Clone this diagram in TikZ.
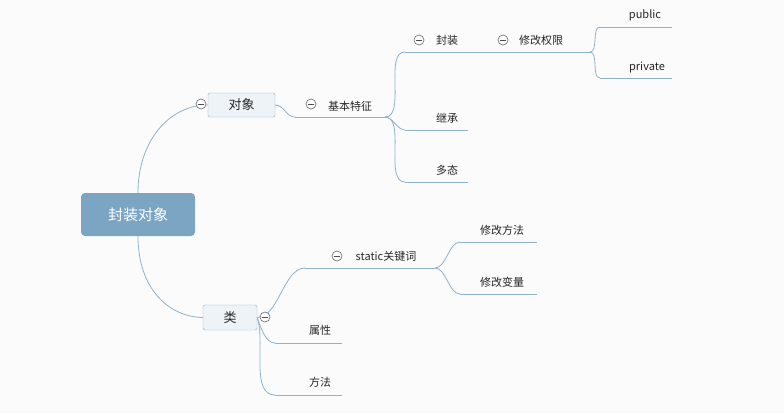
\documentclass[tikz,border=0pt]{standalone}
\usepackage{fontspec}
\setmainfont{Noto Sans CJK SC}
\definecolor{bg}{HTML}{FBFBFB}
\definecolor{ln}{HTML}{8FB2CB}
\definecolor{rootc}{HTML}{7CA5C3}
\definecolor{boxf}{HTML}{EEF3F8}
\tikzset{
 every node/.style={font=\fontsize{11}{13}\selectfont, text=black!85},
 lnk/.style={draw=ln, line width=0.8pt},
 topic/.style={inner sep=0pt},
 subbox/.style={draw=ln, fill=boxf, rounded corners=2pt, minimum width=67pt, minimum height=24pt, font=\fontsize{13}{15}\selectfont},
 tog/.style={circle, draw=black!60, fill=white, minimum size=10pt, inner sep=0pt, line width=0.6pt,
   path picture={\draw[black!70,line width=0.6pt] ([xshift=-3pt]path picture bounding box.center) -- ([xshift=3pt]path picture bounding box.center);}}
}
\begin{document}
\begin{tikzpicture}[x=1pt,y=-1pt]
\fill[bg] (0,0) rectangle (784,413);
\useasboundingbox (0,0) rectangle (784,413);
\node[fill=rootc, rounded corners=4pt, minimum width=114pt, minimum height=43pt, text=white, font=\fontsize{15}{17}\selectfont] (root) at (138,214.5) {封装对象};
\node[subbox] (dx) at (241.5,105) {对象};
\node[subbox, minimum width=54pt, minimum height=25pt] (lei) at (230,317.5) {类};
\foreach \n/\x/\y/\e in {jb/295/117/385, fz/405/52/490, qx/490/52/590, pub/600/27/672, pri/600/78/672, jc/405/130/468, dt/405/182/468, st/305/268/435, ff/460/242/537, bl/460/294/537, sx/275/343/342, fa/275/395/342}{
  \coordinate (\n s) at (\x,\y);
  \coordinate (\n e) at (\e,\y);
  \draw[lnk] (\n s) -- (\n e);
}
% connectors
\draw[lnk] (root.north) .. controls (138,140) and (170,105) .. (dx.west);
\draw[lnk] (root.south) .. controls (138,290) and (170,317) .. (lei.west);
\draw[lnk] (dx.east) to[out=0,in=180] (jbs);
\foreach \c in {fzs,jcs,dts}{\draw[lnk] (jbe) to[out=0,in=180,looseness=0.8] (\c);}
\foreach \c in {pubs,pris}{\draw[lnk] (qxe) to[out=0,in=180,looseness=0.8] (\c);}
\draw[lnk] (fze) -- (qxs);
\draw[lnk] (lei.east) to[out=0,in=180,looseness=0.8] (sts);
\foreach \c in {sxs,fas}{\draw[lnk] (lei.east) to[out=-70,in=180,looseness=0.8] (\c);}
\foreach \c in {ffs,bls}{\draw[lnk] (ste) to[out=0,in=180,looseness=0.8] (\c);}
\node[tog] (t1) at (201,104) {};
\node[tog] (t2) at (265,317) {};
\node[topic] (njb) at (350,106) {基本特征};
\node[tog] (t3) at (311,104) {};
\node[topic] (nfz) at (447,40) {封装};
\node[tog] (t4) at (419,40) {};
\node[topic] (nqx) at (541,40) {修改权限};
\node[tog] (t5) at (503,40) {};
\node[topic] (npub) at (645,15) {public};
\node[topic] (npri) at (647,67) {private};
\node[topic] (njc) at (447,118) {继承};
\node[topic] (ndt) at (447,170) {多态};
\node[topic] (nst) at (386,256) {static关键词};
\node[tog] (t6) at (337,256) {};
\node[topic] (nff) at (502,230) {修改方法};
\node[topic] (nbl) at (502,282) {修改变量};
\node[topic] (nsx) at (320,330) {属性};
\node[topic] (nfa) at (320,382) {方法};
\end{tikzpicture}
\end{document}
